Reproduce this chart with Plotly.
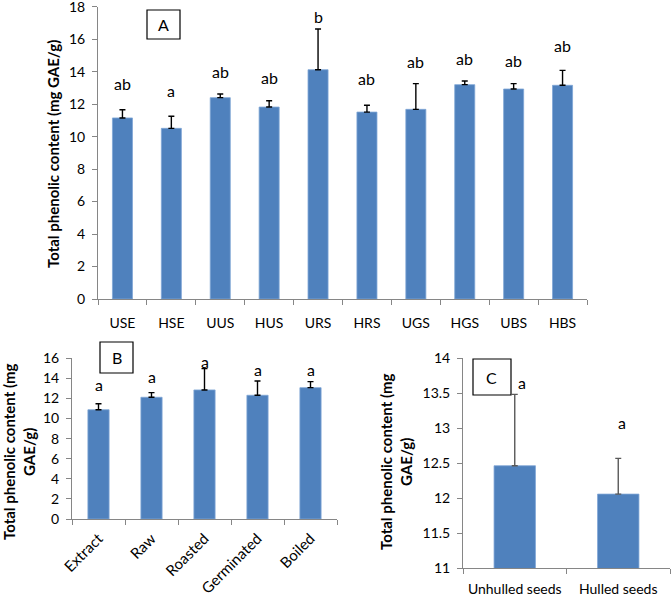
import plotly.graph_objects as go

W, H = 672, 596
FONT = "Lato"

# ---- Panel A data ----
cats_A = ["USE", "HSE", "UUS", "HUS", "URS", "HRS", "UGS", "HGS", "UBS", "HBS"]
vals_A = [11.15, 10.51, 12.40, 11.82, 14.12, 11.51, 11.68, 13.20, 12.93, 13.16]
err_A = [0.50, 0.74, 0.22, 0.39, 2.51, 0.42, 1.58, 0.22, 0.33, 0.92]
letters_A = ["ab", "a", "ab", "ab", "b", "ab", "ab", "ab", "ab", "ab"]
letter_y_A = [13.3, 12.87, 14.0, 13.67, 17.4, 13.55, 14.6, 14.8, 14.7, 15.6]

# ---- Panel B data ----
cats_B = ["Extract", "Raw", "Roasted", "Germinated", "Boiled"]
vals_B = [10.88, 12.12, 12.85, 12.32, 13.08]
err_B = [0.60, 0.46, 2.12, 1.42, 0.60]
letters_B = ["a", "a", "a", "a", "a"]
letter_y_B = [13.35, 14.17, 15.67, 14.9, 14.9]

# ---- Panel C data ----
cats_C = ["Unhulled seeds", "Hulled seeds"]
vals_C = [12.465, 12.06]
err_C = [1.02, 0.51]
letters_C = ["a", "a"]
letter_y_C = [13.66, 13.08]

BAR = "#4F81BD"
AX = "#868686"


def px_x(x):
    return x / W


def px_y(y):
    return 1 - y / H


fig = go.Figure()


def add_bars(cats, vals, errs, xa, ya, width, ecol):
    fig.add_trace(go.Bar(
        x=cats, y=vals, xaxis=xa, yaxis=ya, width=width,
        marker=dict(color=BAR, line=dict(color="#7FA6D6", width=0.8)),
        error_y=dict(type="data", symmetric=False, array=errs,
                     arrayminus=[0] * len(errs), color=ecol,
                     thickness=1.4, width=3),
        showlegend=False, hoverinfo="x+y",
    ))


add_bars(cats_A, vals_A, err_A, "x", "y", 0.41, "#000000")
add_bars(cats_B, vals_B, err_B, "x2", "y2", 0.40, "#000000")
add_bars(cats_C, vals_C, err_C, "x3", "y3", 0.40, "#595959")

tickfont = dict(family=FONT, size=14, color="#000000")

common_x = dict(showline=True, linecolor=AX, linewidth=1, ticks="outside",
                ticklen=5, tickcolor=AX, tickson="boundaries",
                showgrid=False, zeroline=False,
                fixedrange=True, automargin=False, ticklabeloverflow="allow")
common_y = dict(showline=True, linecolor=AX, linewidth=1, ticks="outside",
                ticklen=5, tickcolor=AX, showgrid=False, zeroline=False,
                tickfont=tickfont, fixedrange=True, automargin=False,
                ticklabeloverflow="allow")

fig.update_layout(
    width=W, height=H,
    margin=dict(l=0, r=0, t=0, b=0, pad=0, autoexpand=False),
    paper_bgcolor="white", plot_bgcolor="white",
    bargap=0.6,
    xaxis=dict(domain=[px_x(98), px_x(587)], anchor="y", tickangle=0,
               ticklabelstandoff=11, tickfont=tickfont, **common_x),
    yaxis=dict(domain=[px_y(299), px_y(6.7)], anchor="x", range=[0, 18],
               dtick=2, ticklabelstandoff=4, **common_y),
    xaxis2=dict(domain=[px_x(72), px_x(337)], anchor="y2", tickangle=-45,
                ticklabelstandoff=4,
                tickfont=dict(family=FONT, size=15, color="#000000"),
                **common_x),
    yaxis2=dict(domain=[px_y(519), px_y(358.3)], anchor="x2", range=[0, 16],
                dtick=2, ticklabelstandoff=4, **common_y),
    xaxis3=dict(domain=[px_x(463), px_x(670)], anchor="y3", tickangle=0,
                ticklabelstandoff=8, tickfont=tickfont, **common_x),
    yaxis3=dict(domain=[px_y(568.3), px_y(358.3)], anchor="x3", range=[11, 14],
                dtick=0.5, ticklabelstandoff=4, **common_y),
)

annotations = []
lfont = dict(family=FONT, size=16, color="#000000")
for cats, ly, letters, xr, yr in [
    (cats_A, letter_y_A, letters_A, "x", "y"),
    (cats_B, letter_y_B, letters_B, "x2", "y2"),
]:
    for c, y, t in zip(cats, ly, letters):
        annotations.append(dict(x=c, y=y, xref=xr, yref=yr, text=t,
                                showarrow=False, font=lfont,
                                xanchor="center", yanchor="middle"))
# panel C letters (first one sits slightly right of the error bar)
for i, (c, y, t) in enumerate(zip(cats_C, letter_y_C, letters_C)):
    annotations.append(dict(x=c, y=y, xref="x3", yref="y3", text=t,
                            showarrow=False, font=lfont,
                            xanchor="center", yanchor="middle",
                            xshift=7 if i == 0 else 4))

tfont = dict(family=FONT, size=15, color="#000000")
annotations.append(dict(x=px_x(53), y=px_y(154), xref="paper", yref="paper",
                        text="<b>Total phenolic content (mg GAE/g)</b>",
                        textangle=-90, showarrow=False, font=tfont,
                        xanchor="center", yanchor="middle"))
annotations.append(dict(x=px_x(19), y=px_y(452), xref="paper", yref="paper",
                        text="<b>Total phenolic content (mg<br>GAE/g)</b>",
                        textangle=-90, showarrow=False, font=tfont,
                        xanchor="center", yanchor="middle"))
annotations.append(dict(x=px_x(396), y=px_y(462), xref="paper", yref="paper",
                        text="<b>Total phenolic content (mg<br>GAE/g)</b>",
                        textangle=-90, showarrow=False, font=tfont,
                        xanchor="center", yanchor="middle"))

# panel boxes
shapes = []
for label, (x0, y0, x1, y1) in [("A", (147, 10, 180, 39)),
                                ("B", (100, 342, 133, 373)),
                                ("C", (473, 359, 511, 395))]:
    shapes.append(dict(type="rect", xref="paper", yref="paper",
                       x0=px_x(x0), x1=px_x(x1), y0=px_y(y1), y1=px_y(y0),
                       line=dict(color="#000000", width=1.2),
                       fillcolor="white", layer="above"))
    annotations.append(dict(x=px_x((x0 + x1) / 2), y=px_y((y0 + y1) / 2),
                            xref="paper", yref="paper", text=label,
                            showarrow=False,
                            font=dict(family=FONT, size=16, color="#000000"),
                            xanchor="center", yanchor="middle"))

fig.update_layout(annotations=annotations, shapes=shapes)

fig.write_html(
    "out.html",
    config={"displayModeBar": False},
    post_script="document.body.style.margin='0';"
                "document.body.style.overflow='hidden';",
)
